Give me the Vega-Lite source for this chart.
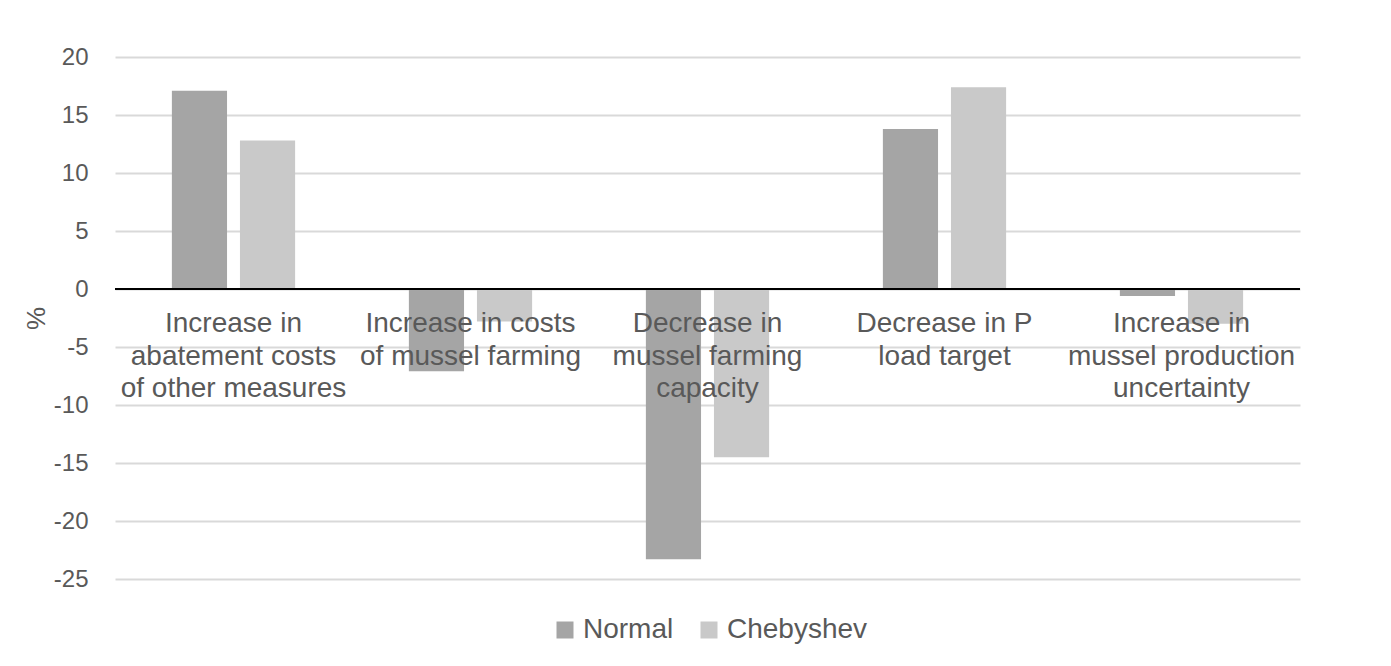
{
  "$schema": "https://vega.github.io/schema/vega-lite/v6.json",
  "autosize": "none",
  "width": 1185,
  "height": 522,
  "padding": {"left": 115, "top": 57, "right": 91, "bottom": 87},
  "background": "white",
  "config": {
    "font": "Liberation Sans",
    "view": {"stroke": null}
  },
  "datasets": {
    "bars": [
      {"category": "Increase in abatement costs of other measures", "series": "Normal", "value": 17.1},
      {"category": "Increase in abatement costs of other measures", "series": "Chebyshev", "value": 12.8},
      {"category": "Increase in costs of mussel farming", "series": "Normal", "value": -7.1},
      {"category": "Increase in costs of mussel farming", "series": "Chebyshev", "value": -2.8},
      {"category": "Decrease in mussel farming capacity", "series": "Normal", "value": -23.3},
      {"category": "Decrease in mussel farming capacity", "series": "Chebyshev", "value": -14.5},
      {"category": "Decrease in P load target", "series": "Normal", "value": 13.8},
      {"category": "Decrease in P load target", "series": "Chebyshev", "value": 17.4},
      {"category": "Increase in mussel production uncertainty", "series": "Normal", "value": -0.6},
      {"category": "Increase in mussel production uncertainty", "series": "Chebyshev", "value": -3.0}
    ],
    "labels": [
      {"category": "Increase in abatement costs of other measures", "label": "Increase in\nabatement costs\nof other measures"},
      {"category": "Increase in costs of mussel farming", "label": "Increase in costs\nof mussel farming"},
      {"category": "Decrease in mussel farming capacity", "label": "Decrease in\nmussel farming\ncapacity"},
      {"category": "Decrease in P load target", "label": "Decrease in P\nload target"},
      {"category": "Increase in mussel production uncertainty", "label": "Increase in\nmussel production\nuncertainty"}
    ]
  },
  "layer": [
    {
      "data": {"name": "bars"},
      "mark": {"type": "bar"},
      "encoding": {
        "x": {
          "field": "category", "type": "nominal", "sort": null,
          "scale": {"paddingInner": 0.48, "paddingOuter": 0.24},
          "axis": null
        },
        "xOffset": {
          "field": "series", "type": "nominal",
          "sort": ["Normal", "Chebyshev"],
          "scale": {"paddingInner": 0.19}
        },
        "y": {
          "field": "value", "type": "quantitative",
          "scale": {"domain": [-25, 20], "nice": false, "zero": false},
          "axis": {
            "title": "%",
            "values": [-25, -20, -15, -10, -5, 0, 5, 10, 15, 20],
            "labelExpr": "replace(datum.label, '−', '-')",
            "domain": false, "ticks": false,
            "labelPadding": 27,
            "labelFontSize": 24,
            "labelColor": "#595959",
            "titleFontSize": 26,
            "titleFontWeight": "normal",
            "titleColor": "#595959",
            "titlePadding": 4,
            "gridColor": "#d9d9d9",
            "gridWidth": 2
          }
        },
        "color": {
          "field": "series", "type": "nominal",
          "sort": ["Normal", "Chebyshev"],
          "scale": {"domain": ["Normal", "Chebyshev"], "range": ["#a5a5a5", "#c9c9c9"]},
          "legend": {
            "title": null,
            "orient": "none",
            "legendX": 436,
            "legendY": 559,
            "direction": "horizontal",
            "symbolType": "square",
            "symbolSize": 289,
            "symbolStrokeWidth": 0,
            "labelFontSize": 28,
            "labelOffset": 4,
            "labelColor": "#595959",
            "columnPadding": 21
          }
        }
      }
    },
    {
      "data": {"name": "bars"},
      "mark": {"type": "rule", "color": "black", "strokeWidth": 2},
      "encoding": {"y": {"datum": 0}}
    },
    {
      "data": {"name": "labels"},
      "mark": {
        "type": "text", "baseline": "alphabetic", "align": "center",
        "dy": 43, "fontSize": 28, "lineHeight": 32.5,
        "lineBreak": "\n", "color": "#595959"
      },
      "encoding": {
        "x": {"field": "category", "type": "nominal", "sort": null},
        "y": {"datum": 0},
        "text": {"field": "label"}
      }
    }
  ]
}
